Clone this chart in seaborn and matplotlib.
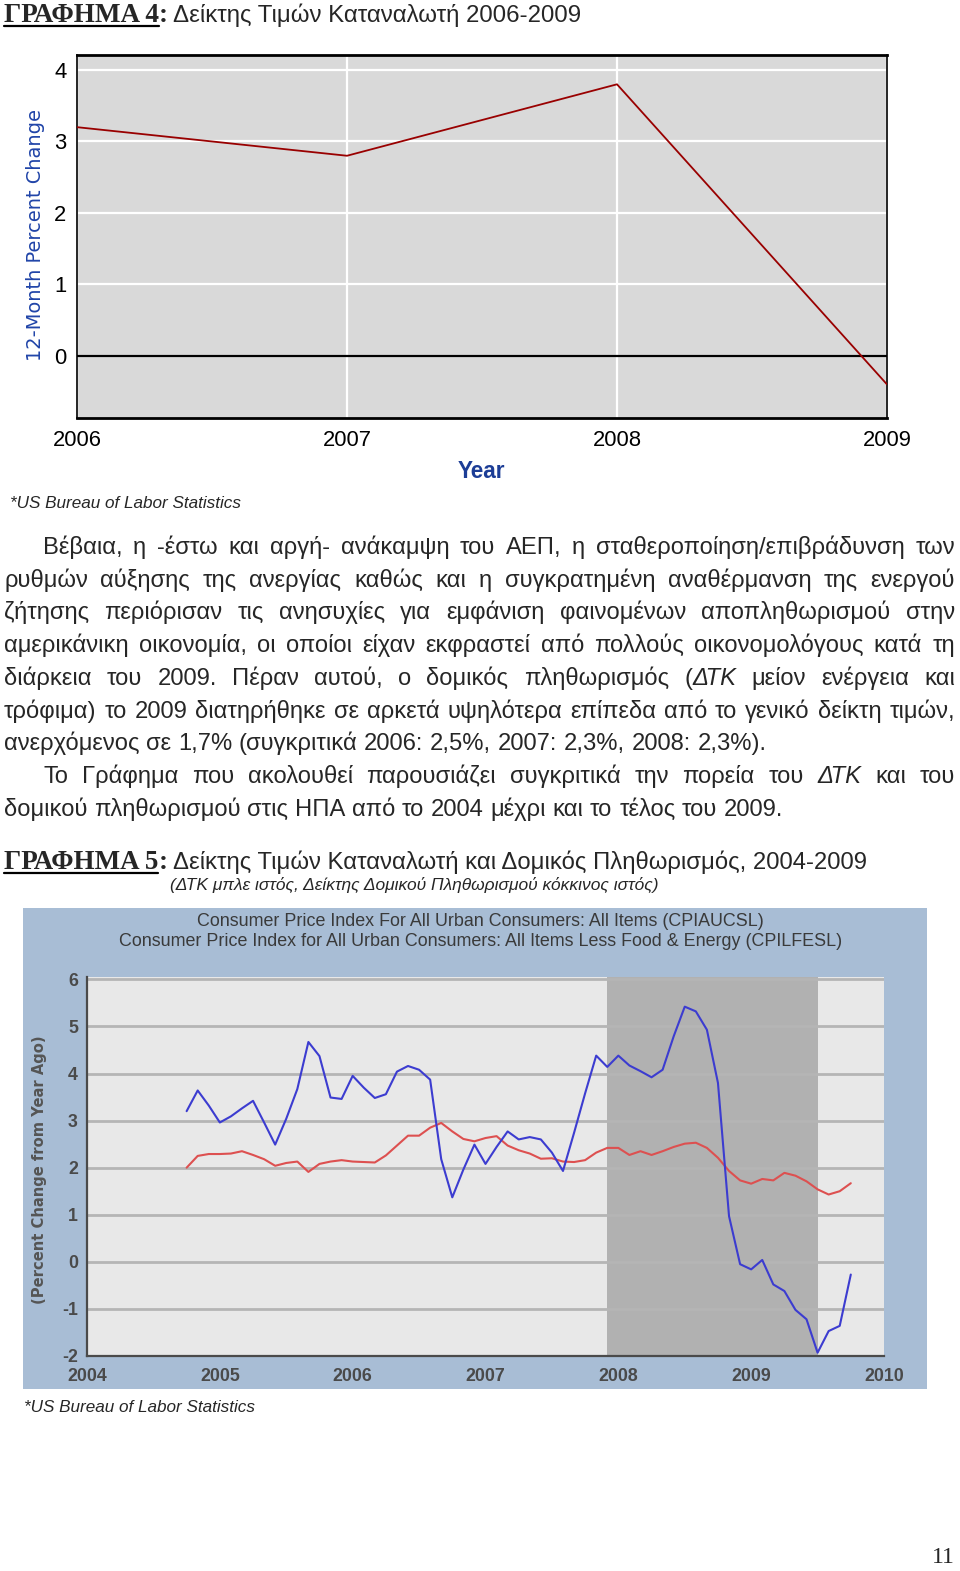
import numpy as np
import pandas as pd
import matplotlib
matplotlib.use("Agg")
import matplotlib.pyplot as plt
import seaborn as sns
from matplotlib.patches import Rectangle
from matplotlib.lines import Line2D

# ---------------- data ----------------
# Chart 4: annual CPI 12-month percent change
years1 = [2006, 2007, 2008, 2009]
cpi_annual = [3.2, 2.8, 3.8, -0.4]

# Chart 5: monthly year-over-year % change, Oct 2004 .. Oct 2009
start_year = 2004
start_month = 10
cpi_all = [3.20, 3.64, 3.32,
           2.96, 3.09, 3.26, 3.42, 2.96, 2.49, 3.04, 3.67, 4.67, 4.37, 3.49, 3.46,
           3.95, 3.70, 3.48, 3.56, 4.04, 4.16, 4.08, 3.87, 2.18, 1.37, 1.96, 2.49,
           2.08, 2.44, 2.77, 2.60, 2.65, 2.60, 2.32, 1.93, 2.74, 3.58, 4.38, 4.14,
           4.38, 4.17, 4.05, 3.92, 4.08, 4.79, 5.42, 5.32, 4.93, 3.80, 0.97, -0.05,
           -0.16, 0.04, -0.48, -0.62, -1.02, -1.22, -1.93, -1.47, -1.36, -0.27]
cpi_core = [2.00, 2.25, 2.29,
            2.29, 2.30, 2.35, 2.27, 2.18, 2.04, 2.10, 2.13, 1.91, 2.08, 2.13, 2.16,
            2.13, 2.12, 2.11, 2.26, 2.47, 2.68, 2.68, 2.85, 2.95, 2.77, 2.61, 2.56,
            2.63, 2.67, 2.47, 2.37, 2.30, 2.19, 2.20, 2.13, 2.12, 2.16, 2.32, 2.42,
            2.42, 2.27, 2.35, 2.27, 2.35, 2.44, 2.51, 2.53, 2.42, 2.21, 1.93, 1.73,
            1.66, 1.76, 1.73, 1.89, 1.83, 1.71, 1.54, 1.43, 1.50, 1.67]
recession = (2007.917, 2009.5)
years2 = [2004, 2005, 2006, 2007, 2008, 2009, 2010]
yticks2 = [-2, -1, 0, 1, 2, 3, 4, 5, 6]
yticks1 = [0, 1, 2, 3, 4]

title4_a = "ΓΡΑΦΗΜΑ 4"
title4_b = "Δείκτης Τιμών Καταναλωτή 2006-2009"
title5_a = "ΓΡΑΦΗΜΑ 5"
title5_b = "Δείκτης Τιμών Καταναλωτή και Δομικός Πληθωρισμός, 2004-2009"
subtitle5 = "(ΔΤΚ μπλε ιστός, Δείκτης Δομικού Πληθωρισμού κόκκινος ιστός)"
source = "*US Bureau of Labor Statistics"
chart5_t1 = "Consumer Price Index For All Urban Consumers: All Items (CPIAUCSL)"
chart5_t2 = "Consumer Price Index for All Urban Consumers: All Items Less Food & Energy (CPILFESL)"

body_lines = [
    "Βέβαια, η -έστω και αργή- ανάκαμψη του ΑΕΠ, η σταθεροποίηση/επιβράδυνση των",
    "ρυθμών αύξησης της ανεργίας καθώς και η συγκρατημένη αναθέρμανση της ενεργού",
    "ζήτησης περιόρισαν τις ανησυχίες για εμφάνιση φαινομένων αποπληθωρισμού στην",
    "αμερικάνικη οικονομία, οι οποίοι είχαν εκφραστεί από πολλούς οικονομολόγους κατά τη",
    "διάρκεια του 2009. Πέραν αυτού, ο δομικός πληθωρισμός (*ΔΤΚ* μείον ενέργεια και",
    "τρόφιμα) το 2009 διατηρήθηκε σε αρκετά υψηλότερα επίπεδα από το γενικό δείκτη τιμών,",
    "ανερχόμενος σε 1,7% (συγκριτικά 2006: 2,5%, 2007: 2,3%, 2008: 2,3%).",
    "Το Γράφημα που ακολουθεί παρουσιάζει συγκριτικά την πορεία του *ΔΤΚ* και του",
    "δομικού πληθωρισμού στις ΗΠΑ από το 2004 μέχρι και το τέλος του 2009.",
]
body_indent = [True, False, False, False, False, False, False, True, False]
body_justify = [True, True, True, True, True, True, False, True, False]
body_baseline = [554, 587, 619, 652, 685, 718, 750, 783, 816]

# ---------------- setup ----------------
sns.set_style("white")
plt.rcParams["font.family"] = ["Liberation Sans", "DejaVu Sans"]

W, H = 960, 1571
fig = plt.figure(figsize=(9.6, 15.71), dpi=100)
fig.patch.set_facecolor("white")
R = fig.canvas.get_renderer()

SANS = ["Liberation Sans", "DejaVu Sans"]
SERIF = ["Liberation Serif", "DejaVu Serif"]
NARROW = ["Liberation Sans Narrow", "Liberation Sans", "DejaVu Sans"]


def fx(x):
    return x / W


def fy(y):
    return 1 - y / H


def measure(s, **kw):
    t = fig.text(0, 0, s, **kw)
    bb = t.get_window_extent(R)
    t.remove()
    return bb.width


def fit(s, target, base=12.0, **kw):
    return base * target / measure(s, fontsize=base, **kw)


# ---------------- headings ----------------
def heading(a, b, baseline, b_width):
    fs_a = fit(a, 154, family=SERIF, weight="bold")
    t = fig.text(fx(4), fy(baseline), a, fontsize=fs_a, family=SERIF,
                 weight="bold", va="baseline", ha="left")
    wa = t.get_window_extent(R).width
    fig.add_artist(Line2D([fx(4), fx(4 + wa)], [fy(baseline + 3.5)] * 2,
                          color="black", lw=1.6, transform=fig.transFigure))
    fig.text(fx(4 + wa), fy(baseline), ":", fontsize=fs_a, family=SERIF,
             weight="bold", va="baseline", ha="left")
    fs_b = fit(b, b_width, family=SANS)
    fig.text(fx(173), fy(baseline), b, fontsize=fs_b, family=SANS,
             va="baseline", ha="left")


heading(title4_a, title4_b, 22, 407)
heading(title5_a, title5_b, 869, 695)

fs_sub = fit(subtitle5, 487, family=SANS, style="italic")
fig.text(fx(170), fy(890), subtitle5, fontsize=fs_sub, family=SANS,
         style="italic", va="baseline", ha="left")

fs_src = fit(source, 232, family=SANS, style="italic")
fig.text(fx(10), fy(508), source, fontsize=fs_src, family=SANS,
         style="italic", va="baseline", ha="left")
fig.text(fx(24), fy(1412), source, fontsize=fs_src, family=SANS,
         style="italic", va="baseline", ha="left")

fs_pg = fit("11", 23, family=SERIF)
fig.text(fx(955), fy(1563), "11", fontsize=fs_pg, family=SERIF,
         va="baseline", ha="right")

# ---------------- body text (justified) ----------------
fs_body = fit(body_lines[6], 760, family=SANS)


def parse_word(w):
    segs = []
    parts = w.split("*")
    for i, p in enumerate(parts):
        if p:
            segs.append((p, "italic" if i % 2 == 1 else "normal"))
    return segs


space_w = measure("a b", fontsize=fs_body, family=SANS) - measure("ab", fontsize=fs_body, family=SANS)

for line, ind, just, base in zip(body_lines, body_indent, body_justify, body_baseline):
    words = [parse_word(w) for w in line.split(" ")]
    widths = []
    for segs in words:
        widths.append([measure(s, fontsize=fs_body, family=SANS, style=st) for s, st in segs])
    x0 = 43 if ind else 4
    x1 = 955
    total = sum(sum(w) for w in widths)
    gap = (x1 - x0 - total) / (len(words) - 1) if just else space_w
    x = x0
    for segs, ws in zip(words, widths):
        for (s, st), wd in zip(segs, ws):
            fig.text(fx(x), fy(base), s, fontsize=fs_body, family=SANS, style=st,
                     va="baseline", ha="left")
            x += wd
        x += gap

# ---------------- chart 4 ----------------
ax1 = fig.add_axes([fx(77), fy(418), (887 - 77) / W, (418 - 55) / H])
ax1.set_facecolor("#d9d9d9")
df1 = pd.DataFrame({"year": years1, "cpi": cpi_annual})
ax1.set_xlim(2006, 2009)
ax1.set_ylim(-0.87, 4.21)
ax1.set_xticks(years1)
ax1.set_yticks(yticks1)
for v in years1:
    ax1.axvline(v, color="white", lw=1.6, zorder=1)
for v in yticks1:
    ax1.axhline(v, color="white", lw=1.6, zorder=1)
ax1.axhline(0, color="black", lw=1.6, zorder=2)
sns.lineplot(data=df1, x="year", y="cpi", ax=ax1, color="#990000", lw=1.3, zorder=3)
for side in ["top", "bottom"]:
    ax1.spines[side].set_color("black")
    ax1.spines[side].set_linewidth(2.0)
for side in ["left", "right"]:
    ax1.spines[side].set_color("black")
    ax1.spines[side].set_linewidth(1.2)
fs_t1 = fit("2006", 49, family=NARROW)
ax1.tick_params(axis="both", direction="out", colors="black", labelsize=fs_t1,
                length=5.5, width=1.0, pad=2)
ax1.tick_params(axis="x", pad=3.5)
ax1.set_xticklabels([str(y) for y in years1])
ax1.set_yticklabels([str(v) for v in yticks1])
for lab in ax1.get_xticklabels() + ax1.get_yticklabels():
    lab.set_family(NARROW)
ax1.set_xlabel("")
ax1.set_ylabel("")
fs_year = fit("Year", 48, family=NARROW, weight="bold")
fig.text(fx(481), fy(471), "Year", fontsize=fs_year, family=NARROW, weight="bold",
         color="#1c3d96", ha="center", va="center")
ylab1 = "12-Month Percent Change"
fs_yl1 = fit(ylab1, 250, family=["DejaVu Sans"])
fig.text(fx(36), fy(235), ylab1, fontsize=fs_yl1, family=["DejaVu Sans"],
         color="#2044a8", rotation=90, ha="center", va="center")

# ---------------- chart 5 ----------------
fig.add_artist(Rectangle((fx(23), fy(1389)), (927 - 23) / W, (1389 - 908) / H,
                         transform=fig.transFigure, facecolor="#a8bdd5",
                         edgecolor="none", zorder=-5))
ax2 = fig.add_axes([fx(87), fy(1356), (884 - 87) / W, (1356 - 977) / H])
ax2.set_facecolor("#e8e8e8")
n = len(cpi_all)
t = [start_year + (start_month - 1 + i) / 12 for i in range(n)]
df2 = pd.DataFrame({"t": t, "all": cpi_all, "core": cpi_core})
ax2.set_xlim(2004, 2010)
ax2.set_ylim(-2, 6.05)
ax2.axvspan(recession[0], recession[1], color="#b1b1b1", zorder=0.5, lw=0)
for v in yticks2:
    ax2.axhline(v, color="#b5b5b5", lw=2.0, zorder=1)
sns.lineplot(data=df2, x="t", y="core", ax=ax2, color="#dd5050", lw=1.5, zorder=3)
sns.lineplot(data=df2, x="t", y="all", ax=ax2, color="#3c3cd0", lw=1.5, zorder=4)
ax2.set_xticks(years2)
ax2.set_yticks(yticks2)
for side in ["top", "right"]:
    ax2.spines[side].set_visible(False)
for side in ["left", "bottom"]:
    ax2.spines[side].set_color("#4a4a4a")
    ax2.spines[side].set_linewidth(1.6)
fs_t2 = fit("2004", 39, family=NARROW, weight="bold")
ax2.tick_params(axis="x", direction="in", length=5, width=1.3, colors="#4a4a4a",
                labelsize=fs_t2, pad=8.5)
ax2.tick_params(axis="y", direction="out", length=4.5, width=1.3, colors="#4a4a4a",
                labelsize=fs_t2, pad=2)
ax2.set_xticklabels([str(y) for y in years2])
ax2.set_yticklabels([str(v) for v in yticks2])
for lab in ax2.get_xticklabels() + ax2.get_yticklabels():
    lab.set_family(NARROW)
    lab.set_weight("bold")
    lab.set_color("#4a4a4a")
ax2.set_xlabel("")
ax2.set_ylabel("")

fs_c1 = fit(chart5_t1, 567, family=NARROW)
fig.text(fx(480.5), fy(921), chart5_t1, fontsize=fs_c1, family=NARROW,
         color="#3a3a3a", ha="center", va="center")
fs_c2 = fit(chart5_t2, 725, family=NARROW)
fig.text(fx(480.5), fy(942), chart5_t2, fontsize=fs_c2, family=NARROW,
         color="#3a3a3a", ha="center", va="center")
ylab2 = "(Percent Change from Year Ago)"
fs_yl2 = fit(ylab2, 268, family=["DejaVu Sans"], weight="bold")
fig.text(fx(40), fy(1170), ylab2, fontsize=fs_yl2, family=["DejaVu Sans"],
         weight="bold", color="#555555", rotation=90, ha="center", va="center")

fig.savefig("out.png", dpi=100, facecolor="white")
